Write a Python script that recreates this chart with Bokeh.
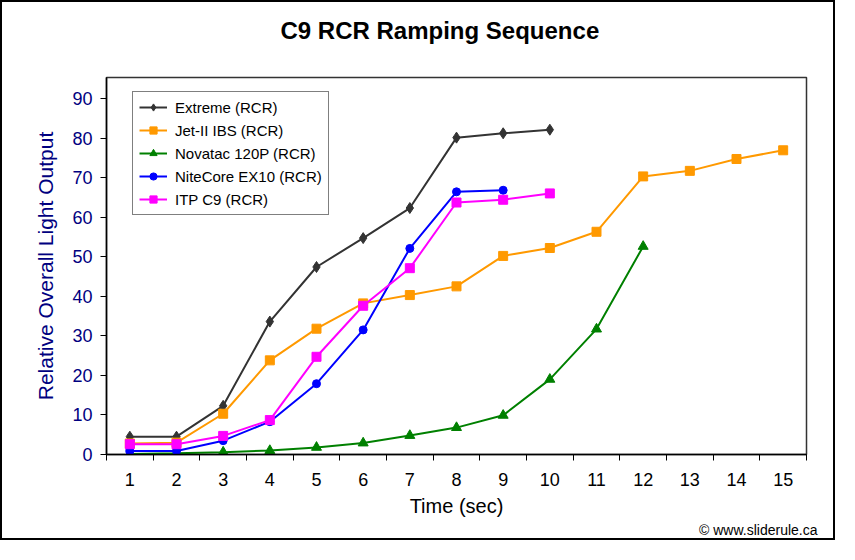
from bokeh.plotting import figure
from bokeh.models import Range1d, FixedTicker, Legend, LegendItem, Title
from bokeh.embed import file_html
from bokeh.resources import INLINE

# ---- data ----
times = list(range(1, 16))
tick_labels = [str(t) for t in times]
extreme = [4.5, 4.5, 12.3, 33.6, 47.4, 54.7, 62.3, 80.1, 81.2, 82.1]
jet2 = [2.8, 3.0, 10.3, 23.8, 31.8, 38.2, 40.3, 42.5, 50.2, 52.2, 56.3, 70.3, 71.7, 74.7, 76.9]
novatac = [0.1, 0.3, 0.6, 1.0, 1.8, 2.9, 4.8, 6.8, 9.9, 19.0, 31.7, 52.6]
nitecore = [0.9, 0.9, 3.5, 8.3, 17.9, 31.5, 52.1, 66.4, 66.8]
itp = [2.6, 2.6, 4.7, 8.7, 24.7, 37.6, 47.1, 63.7, 64.4, 66.0]
y_ticks = [0, 10, 20, 30, 40, 50, 60, 70, 80, 90]

series = [
    ("Extreme (RCR)", extreme, "#333333", "diamond", 11),
    ("Jet-II IBS (RCR)", jet2, "#FF9900", "square", 9),
    ("Novatac 120P (RCR)", novatac, "#008000", "triangle", 10),
    ("NiteCore EX10 (RCR)", nitecore, "#0000FF", "circle", 8),
    ("ITP C9 (RCR)", itp, "#FF00FF", "square", 9),
]

FONT = "Liberation Sans"

p = figure(width=835, height=540,
           x_range=Range1d(0.5, 15.5), y_range=Range1d(0, 95.3),
           output_backend="svg", toolbar_location=None, title=None,
           min_border_left=104, min_border_right=31,
           min_border_top=75, min_border_bottom=88,
           styles={"border": "2px solid #000000"})
p.background_fill_color = "white"
p.border_fill_color = "white"
p.outline_line_color = "#333333"
p.outline_line_width = 1.5
p.xgrid.grid_line_color = None
p.ygrid.grid_line_color = None

# spacer between title and frame, then the title itself (further out)
spacer = Title(text=" ", text_font=FONT, text_font_size="16px", text_color="white")
p.add_layout(spacer, "above")
main_title = Title(text="C9 RCR Ramping Sequence", align="left", offset=174,
                   text_font=FONT, text_font_size="24px", text_font_style="bold",
                   text_color="black")
p.add_layout(main_title, "above")

# x axis
xa = p.xaxis[0]
xa.ticker = FixedTicker(ticks=times, minor_ticks=[t - 0.5 for t in times] + [times[-1] + 0.5])
xa.major_label_overrides = {t: l for t, l in zip(times, tick_labels)}
xa.major_tick_line_color = None
xa.major_tick_out = 0
xa.major_tick_in = 0
xa.minor_tick_line_color = "#000000"
xa.minor_tick_out = 6
xa.minor_tick_in = 0
xa.axis_line_color = "#000000"
xa.axis_line_width = 1.5
xa.major_label_text_font = FONT
xa.major_label_text_font_size = "18px"
xa.major_label_text_color = "black"
xa.major_label_standoff = 12
xa.axis_label = "Time (sec)"
xa.axis_label_text_font = FONT
xa.axis_label_text_font_size = "20px"
xa.axis_label_text_font_style = "normal"
xa.axis_label_text_color = "black"
xa.axis_label_standoff = 6

# y axis
ya = p.yaxis[0]
ya.ticker = FixedTicker(ticks=y_ticks)
ya.minor_tick_line_color = None
ya.major_tick_out = 6
ya.major_tick_in = 0
ya.major_tick_line_color = "#000000"
ya.axis_line_color = "#000000"
ya.axis_line_width = 1.5
ya.major_label_text_font = FONT
ya.major_label_text_font_size = "18px"
ya.major_label_text_color = "#000080"
ya.major_label_standoff = 8
ya.axis_label = "Relative Overall Light Output"
ya.axis_label_text_font = FONT
ya.axis_label_text_font_size = "21px"
ya.axis_label_text_font_style = "normal"
ya.axis_label_text_color = "#000080"
ya.axis_label_standoff = 12

items = []
for name, vals, color, marker, size in series:
    xs = times[:len(vals)]
    r1 = p.line(xs, vals, line_color=color, line_width=2)
    r2 = p.scatter(xs, vals, marker=marker, size=size, fill_color=color, line_color=color)
    items.append(LegendItem(label=name, renderers=[r1, r2]))

legend = Legend(items=items, location=(26, 239))
legend.border_line_color = "#000000"
legend.border_line_width = 1
legend.background_fill_color = "white"
legend.background_fill_alpha = 1
legend.padding = 6
legend.spacing = 5
legend.margin = 0
legend.glyph_width = 28
legend.glyph_height = 18
legend.label_height = 18
legend.label_standoff = 8
legend.label_text_font = FONT
legend.label_text_font_size = "15px"
legend.label_text_color = "black"
p.add_layout(legend)

credit = Title(text="\u00a9 www.sliderule.ca", align="right", offset=-11, standoff=0,
               text_font=FONT, text_font_size="14px", text_font_style="normal",
               text_color="black")
p.add_layout(credit, "below")

open("out.html", "w").write(file_html(p, INLINE))
